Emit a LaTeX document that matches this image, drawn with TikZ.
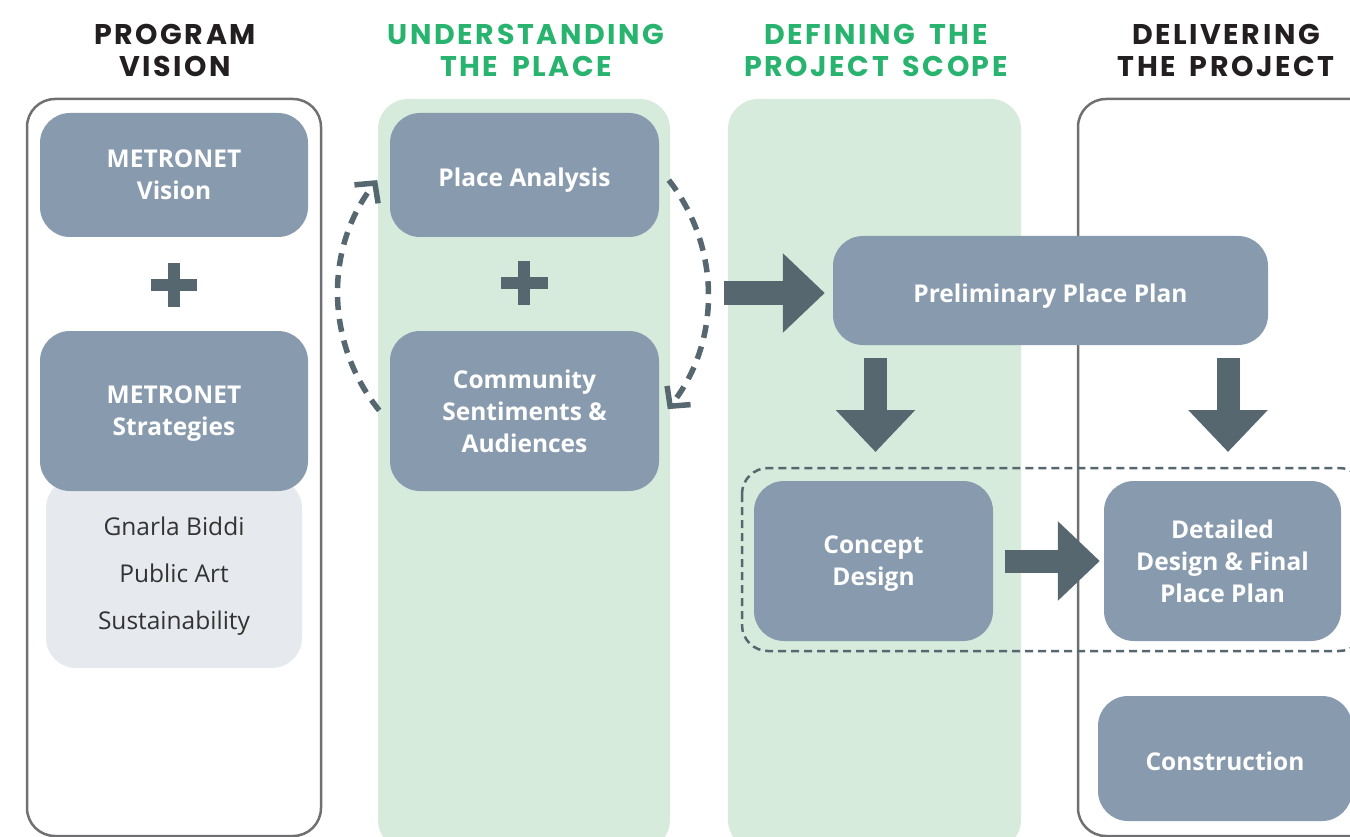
\documentclass[tikz,border=0pt]{standalone}
\usepackage{fontspec}
\setmainfont{Open Sans}
\newfontfamily\headfont[LetterSpace=9, WordSpace=1.6]{Poppins}
\usetikzlibrary{arrows.meta}
\definecolor{boxc}{RGB}{136,154,174}
\definecolor{darkc}{RGB}{86,103,112}
\definecolor{greenfill}{RGB}{215,235,220}
\definecolor{greentxt}{RGB}{40,180,110}
\definecolor{framec}{RGB}{112,112,114}
\definecolor{grayfill}{RGB}{230,233,237}
\definecolor{headk}{RGB}{35,31,32}
\definecolor{bodyk}{RGB}{51,51,51}
\tikzset{
  head/.style={align=center, inner sep=0pt, font=\headfont\bfseries\fontsize{28.5}{32}\selectfont},
  colframe/.style={draw=framec, line width=2.5pt, rounded corners=28pt},
  colgreen/.style={fill=greenfill, rounded corners=30pt},
  stage/.style={fill=boxc, text=white, rounded corners=30pt, align=center, inner sep=0pt,
    text depth=0pt, execute at begin node={\rule{0pt}{23.5pt}},
    font=\bfseries\fontsize{24.5}{32}\selectfont},
  sub/.style={fill=grayfill, text=bodyk, rounded corners=30pt, align=center, inner sep=0pt,
    font=\fontsize{24.5}{47}\selectfont},
  bigarrow/.style={draw=darkc, line width=23pt, -{Triangle[length=42pt,width=77pt]}},
  dasharc/.style={draw=darkc, line width=5.5pt, dash pattern=on 13pt off 9pt,
    -{Straight Barb[length=14pt,width=30pt]}},
  dashbox/.style={draw=darkc, line width=2.5pt, dash pattern=on 8pt off 5pt, rounded corners=26pt},
}
\begin{document}
\begin{tikzpicture}[x=1pt,y=-1pt]
\useasboundingbox (0,0) rectangle (1350,837);
\clip (0,0) rectangle (1350,837);
% column backgrounds
\draw[colframe] (27,99) rectangle (321,836);
\fill[colgreen] (378,99) rectangle (670,850);
\fill[colgreen] (728,99) rectangle (1021,850);
\draw[colframe] (1078,99) rectangle (1420,836);
% headings
\node[head, text=headk] (h1) at (175,50) {PROGRAM\\VISION};
\node[head, text=greentxt] (h2) at (526,50) {UNDERSTANDING\\THE PLACE};
\node[head, text=greentxt] (h3) at (876,50) {DEFINING THE\\PROJECT SCOPE};
\node[head, text=headk] (h4) at (1226,50) {DELIVERING\\THE PROJECT};
% dashed group
\draw[dashbox] (742,468) rectangle (1365,651);
% column 1
\node[stage, minimum width=268pt, minimum height=124pt] (vision) at (174,175) {METRONET\\Vision};
\node[sub, minimum width=256pt, minimum height=190pt, text depth=0pt] (subs) at (174,573) {Gnarla Biddi\\Public Art\\Sustainability};
\node[stage, minimum width=268pt, minimum height=160pt] (strat) at (174,411) {METRONET\\Strategies};
\fill[darkc] (151,279) rectangle (197,291);
\fill[darkc] (168,263) rectangle (180,307);
% column 2
\node[stage, minimum width=269pt, minimum height=124pt] (place) at (524.5,175) {Place Analysis};
\node[stage, minimum width=269pt, minimum height=160pt] (comm) at (524.5,411) {Community\\Sentiments \&\\Audiences};
\fill[darkc] (501,277) rectangle (548,289);
\fill[darkc] (518,261) rectangle (530,305);
\draw[dasharc] ({523+185*cos(141)},{294+185*sin(141)}) arc[start angle=141, end angle=218, radius=185];
\draw[dasharc] ({523+185*cos(-38)},{294+185*sin(-38)}) arc[start angle=-38, end angle=38.5, radius=185];
% column 3 / 4
\node[stage, minimum width=435pt, minimum height=109pt] (prelim) at (1050.5,290.5) {Preliminary Place Plan};
\node[stage, minimum width=239pt, minimum height=160pt] (concept) at (873.5,561) {Concept\\Design};
\node[stage, minimum width=237pt, minimum height=160pt] (detail) at (1222.5,561) {Detailed\\Design \& Final\\Place Plan};
\node[stage, minimum width=254pt, minimum height=125pt] (constr) at (1225,758.5) {Construction};
% block arrows
\coordinate (ra) at (724,293);
\draw[bigarrow, shorten >=8pt] (ra) -- (ra -| prelim.west);
\coordinate (d1s) at (875.5,358);
\coordinate (d1e) at (875.5,452);
\draw[bigarrow] (d1s) -- (d1e);
\coordinate (d2s) at (1228,358);
\coordinate (d2e) at (1228,452);
\draw[bigarrow] (d2s) -- (d2e);
\draw[bigarrow, shorten <=12pt, shorten >=4pt] (concept.east) -- (detail.west);
\end{tikzpicture}
\end{document}
